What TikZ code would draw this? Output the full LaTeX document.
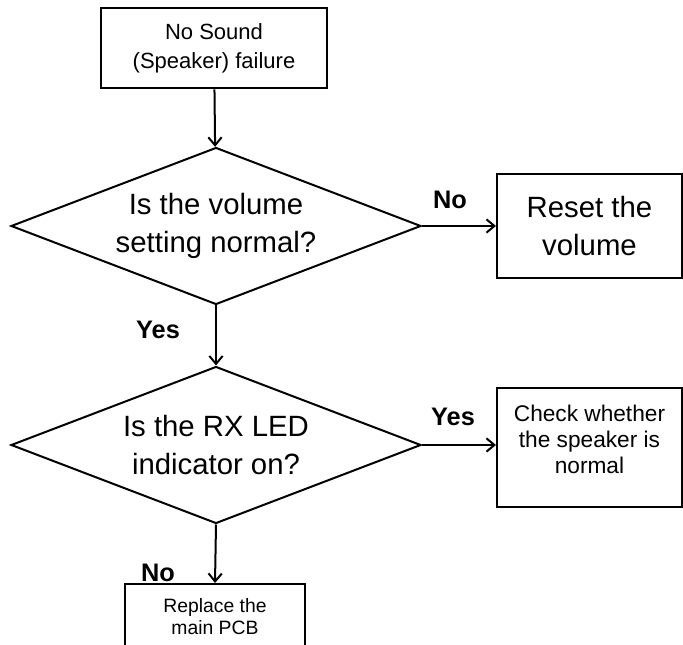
\documentclass[tikz,border=0pt]{standalone}
\usepackage{fontspec}
\setmainfont{Liberation Sans}
\usepackage{tikz}
\usetikzlibrary{arrows.meta,shapes.geometric}
\tikzset{
  stepbox/.style={
    draw=black,
    line width=1.5pt,
    fill=white,
    align=center,
    inner sep=0pt
  },
  decision/.style={
    diamond,
    draw=black,
    line width=1.5pt,
    inner sep=0pt,
    minimum width=307.5pt,
    minimum height=117.75pt
  },
  qtext/.style={font=\fontsize{22}{29}\selectfont, align=center},
  flowedge/.style={line width=1.5pt, draw=black, -{Straight Barb[length=6pt,width=10pt,line width=1.5pt]}},
  answer/.style={font=\fontsize{19}{22}\selectfont\bfseries}
}

\begin{document}
\begin{tikzpicture}[x=0.75pt,y=-0.75pt]
\useasboundingbox (0,0) rectangle (683,645);
\clip (0,0) rectangle (683,645);

\node[stepbox, line width=2pt, minimum width=169.5pt, minimum height=60pt,
      font=\fontsize{16.5}{21.5}\selectfont] (start) at (214,48) {No Sound\\(Speaker) failure};

\node[decision] (vol) at (216,226) {};
\node[qtext] (voltxt) at (216,226) {Is the volume\\setting normal?};
\node[stepbox, minimum width=138.75pt, minimum height=78pt,
      font=\fontsize{22}{29}\selectfont] (reset) at (589.5,226) {Reset the\\volume};

\node[decision] (rx) at (216,445) {};
\node[qtext] (rxtxt) at (216,445) {Is the RX LED\\indicator on?};
\node[stepbox, minimum width=138.75pt, minimum height=89.25pt] (check) at (589.5,447.5) {};
\node[font=\fontsize{17}{19.5}\selectfont, align=center] (checktxt) at (589.5,439) {Check whether\\the speaker is\\normal};

\node[stepbox, minimum width=135pt, minimum height=67.5pt, anchor=north] (pcb) at (215,583) {};
\node[font=\fontsize{14.5}{16.5}\selectfont, align=center] (pcbtxt) at (215,617) {Replace the\\main PCB};

\node[answer] (ansno) at (450,200) {No};
\node[answer] (ansyes) at (158,330) {Yes};
\node[answer] (ansyes2) at (453,417) {Yes};
\node[answer] (ansno2) at (158,573) {No};

\draw[flowedge] (start) -- (vol);
\draw[flowedge] (vol.east) -- (reset.west);
\draw[flowedge] (vol) -- (rx);
\draw[flowedge] (rx.east) -- (rx.east -| check.west);
\draw[flowedge] (rx.south) -- (pcb.north);

\end{tikzpicture}
\end{document}
